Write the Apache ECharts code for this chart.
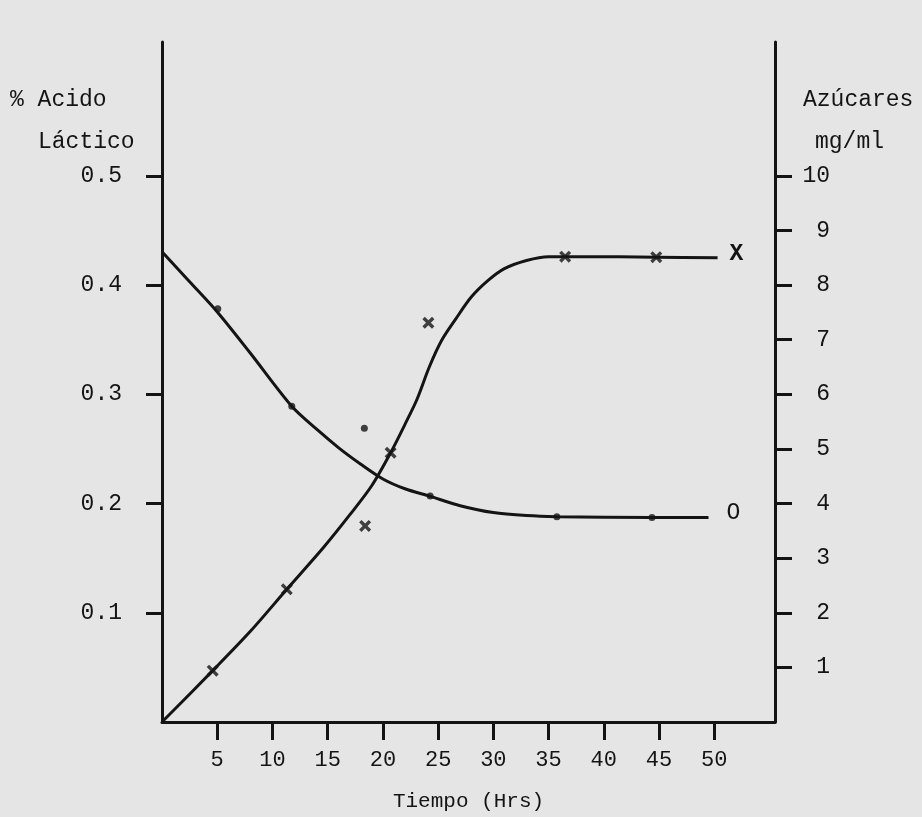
<!DOCTYPE html>
<html>
<head>
<meta charset="utf-8">
<script src="https://cdn.jsdelivr.net/npm/echarts@6/dist/echarts.min.js"></script>
<style>html,body{margin:0;padding:0;background:#e5e5e5;}#c{width:922px;height:817px;}</style>
</head>
<body>
<div id="c"></div>
<script>
// Tick labels
const xTicks = [5, 10, 15, 20, 25, 30, 35, 40, 45, 50];
const acidTicks = [0.1, 0.2, 0.3, 0.4, 0.5];
const sugarTicks = [1, 2, 3, 4, 5, 6, 7, 8, 9, 10];

// Azúcares (mg/ml) – fitted curve and measured points (x markers)
const sugarCurve = [[0,0],[4.59,0.94],[8.0,1.66],[11.3,2.43],[14.6,3.19],[17.03,3.80],[19.0,4.33],[20.7,4.93],[22.0,5.45],[23.07,5.90],[24.2,6.50],[25.3,6.98],[26.6,7.38],[28.0,7.78],[29.5,8.08],[31.0,8.30],[33.0,8.45],[35.0,8.52],[38.0,8.52],[44.75,8.51],[50.3,8.50]];
const sugarPoints = [[4.59,0.94],[11.3,2.43],[18.39,3.59],[20.7,4.93],[24.12,7.31],[36.5,8.52],[44.75,8.51]];

// % Ácido Láctico – fitted curve and measured points (dots)
const acidCurve = [[0,0.4305],[2.5,0.403],[4.95,0.376],[7.97,0.338],[11.75,0.289],[14.0,0.268],[16.0,0.251],[18.0,0.236],[20.0,0.2225],[22.0,0.2135],[24.28,0.2066],[27.0,0.198],[30.0,0.1917],[33.0,0.189],[35.75,0.188],[44.36,0.1871],[49.48,0.1871]];
const acidPoints = [[5.05,0.3784],[11.75,0.289],[18.32,0.269],[24.28,0.2069],[35.75,0.188],[44.36,0.1871]];

const FONT = '"Liberation Mono", "DejaVu Sans Mono", monospace';
const INK = '#141414';
const chart = echarts.init(document.getElementById('c'), null, {renderer: 'canvas'});
const xCross = 'path://M0,2 L2,0 L5,3 L8,0 L10,2 L7,5 L10,8 L8,10 L5,7 L2,10 L0,8 L3,5 Z';

chart.setOption({
  backgroundColor: '#e5e5e5',
  animation: false,
  grid: {left: 162, right: 147, top: 42, bottom: 94},
  textStyle: {fontFamily: FONT, color: INK},
  xAxis: {
    type: 'value', min: 0, max: 55.5, interval: 5,
    name: 'Tiempo (Hrs)', nameLocation: 'middle', nameGap: 69,
    nameTextStyle: {fontFamily: FONT, fontSize: 21, color: INK},
    axisLine: {show: true, onZero: false, lineStyle: {color: INK, width: 3}},
    axisTick: {show: true, inside: false, length: 18, customValues: xTicks, lineStyle: {color: INK, width: 3}},
    axisLabel: {show: true, margin: 27, customValues: xTicks, fontFamily: FONT, fontSize: 22, color: INK},
    splitLine: {show: false}
  },
  yAxis: [
    {
      type: 'value', min: 0, max: 0.6225, position: 'left',
      axisLine: {show: true, onZero: false, lineStyle: {color: INK, width: 3}},
      axisTick: {show: true, inside: false, length: 16, customValues: acidTicks, lineStyle: {color: INK, width: 3}},
      axisLabel: {show: true, margin: 40, customValues: acidTicks, formatter: v => v.toFixed(1), fontFamily: FONT, fontSize: 23, color: INK},
      splitLine: {show: false}
    },
    {
      type: 'value', min: 0, max: 12.45, position: 'right',
      axisLine: {show: true, onZero: false, lineStyle: {color: INK, width: 3}},
      axisTick: {show: true, inside: false, length: 17, customValues: sugarTicks, lineStyle: {color: INK, width: 3}},
      axisLabel: {show: true, margin: 55, align: 'right', customValues: sugarTicks, fontFamily: FONT, fontSize: 23, color: INK},
      splitLine: {show: false}
    }
  ],
  graphic: [
    {type: 'text', left: 10, top: 88, style: {text: '% Acido', font: '23px ' + FONT, fill: INK}},
    {type: 'text', left: 38, top: 130, style: {text: 'Láctico', font: '23px ' + FONT, fill: INK}},
    {type: 'text', left: 803, top: 88, style: {text: 'Azúcares', font: '23px ' + FONT, fill: INK}},
    {type: 'text', left: 815, top: 130, style: {text: 'mg/ml', font: '23px ' + FONT, fill: INK}}
  ],
  series: [
    {
      name: 'Azúcares', type: 'line', yAxisIndex: 1, data: sugarCurve,
      smooth: 0.3, showSymbol: false, symbol: 'none',
      lineStyle: {color: INK, width: 3},
      endLabel: {show: true, formatter: 'X', distance: 12, offset: [0, -4], fontFamily: FONT, fontSize: 23, fontWeight: 'bold', color: INK}
    },
    {
      name: 'Ácido', type: 'line', yAxisIndex: 0, data: acidCurve,
      smooth: 0.3, showSymbol: false, symbol: 'none',
      lineStyle: {color: INK, width: 3},
      endLabel: {show: true, formatter: 'O', distance: 18, offset: [0, -5], fontFamily: FONT, fontSize: 23, color: INK}
    },
    {
      name: 'Azúcares puntos', type: 'scatter', yAxisIndex: 1, data: sugarPoints,
      symbol: xCross, symbolSize: 12, itemStyle: {color: INK}
    },
    {
      name: 'Ácido puntos', type: 'scatter', yAxisIndex: 0, data: acidPoints,
      symbol: 'circle', symbolSize: 7, itemStyle: {color: INK}
    }
  ]
});
</script>
</body>
</html>
